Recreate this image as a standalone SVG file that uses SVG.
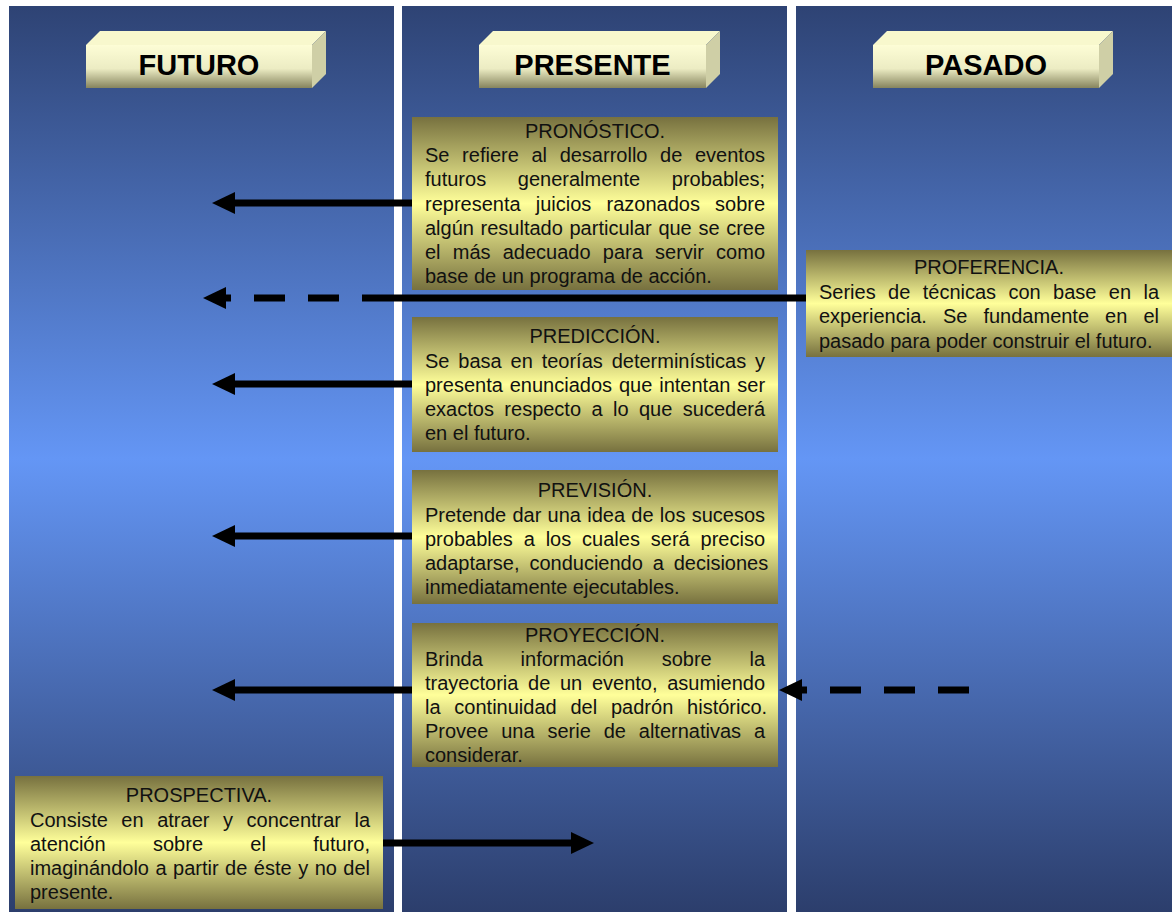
<svg xmlns="http://www.w3.org/2000/svg" width="1172" height="912" viewBox="0 0 1172 912">
<defs>
<linearGradient id="colg" gradientUnits="userSpaceOnUse" x1="0" y1="6" x2="0" y2="912">
<stop offset="0" stop-color="#2e4374"/>
<stop offset="0.5" stop-color="#6496f5"/>
<stop offset="1" stop-color="#2c3e6c"/>
</linearGradient>
<linearGradient id="boxg" x1="0" y1="0" x2="0" y2="1">
<stop offset="0" stop-color="#77713f"/>
<stop offset="0.5" stop-color="#ffff9a"/>
<stop offset="1" stop-color="#77713f"/>
</linearGradient>
<linearGradient id="frontg" x1="0" y1="0" x2="0" y2="1">
<stop offset="0" stop-color="#fdfdd6"/>
<stop offset="0.55" stop-color="#ececc3"/>
<stop offset="1" stop-color="#86845e"/>
</linearGradient>
<marker id="ah" viewBox="0 0 23 22" refX="1" refY="11" markerWidth="23" markerHeight="22" markerUnits="userSpaceOnUse" orient="auto">
<path d="M0,0 L23,11 L0,22 z" fill="#000"/>
</marker>
</defs>
<style>
.col{fill:url(#colg)}
.box{fill:url(#boxg)}
.front{fill:url(#frontg)}
.top{fill:#f8f8cd}
.side{fill:#cfcfa6}
.hd{font-family:"Liberation Sans",Arial,sans-serif;font-weight:bold;font-size:29px;fill:#000;text-anchor:middle}
.t{font-family:"Liberation Sans",Arial,sans-serif;font-size:20px;fill:#111}
.c{text-anchor:middle}
.ln{stroke:#000;stroke-width:7;fill:none}
.dash{stroke-dasharray:31 23}
</style>
<rect width="1172" height="912" fill="#ffffff"/>
<g id="columns">
<rect class="col" x="9" y="6" width="385" height="906"/>
<rect class="col" x="402" y="6" width="385" height="906"/>
<rect class="col" x="796" y="6" width="376" height="906"/>
</g>
<g id="futuro">
<polygon class="top" points="86,45 100,31 326,31 312,45"/>
<polygon class="side" points="312,45 326,31 326,74 312,88"/>
<rect class="front" x="86" y="45" width="226" height="43"/>
<text class="hd" x="199" y="75">FUTURO</text>
</g>
<g id="presente">
<polygon class="top" points="479,45 493,31 720,31 706,45"/>
<polygon class="side" points="706,45 720,31 720,74 706,88"/>
<rect class="front" x="479" y="45" width="227" height="43"/>
<text class="hd" x="592.5" y="75">PRESENTE</text>
</g>
<g id="pasado">
<polygon class="top" points="873,45 887,31 1113,31 1099,45"/>
<polygon class="side" points="1099,45 1113,31 1113,74 1099,88"/>
<rect class="front" x="873" y="45" width="226" height="43"/>
<text class="hd" x="986" y="75">PASADO</text>
</g>
<g id="connectors">
<path class="ln" d="M412,203 L234,203" marker-end="url(#ah)"/>
<path class="ln" d="M806,298 L362,298"/>
<path class="ln dash" d="M339,298 L225,298" marker-end="url(#ah)"/>
<path class="ln" d="M412,384 L234,384" marker-end="url(#ah)"/>
<path class="ln" d="M412,536 L234,536" marker-end="url(#ah)"/>
<path class="ln" d="M412,690 L234,690" marker-end="url(#ah)"/>
<path class="ln dash" d="M969,690 L801,690" marker-end="url(#ah)"/>
<path class="ln" d="M383,843 L572,843" marker-end="url(#ah)"/>
</g>
<g id="pronostico">
<rect class="box" x="412" y="117" width="366" height="173"/>
<text class="t c" x="595" y="138">PRONÓSTICO.</text>
<text class="t" x="425" y="162" word-spacing="7.08">Se refiere al desarrollo de eventos</text>
<text class="t" x="425" y="186.4" word-spacing="26.1">futuros generalmente probables;</text>
<text class="t" x="425" y="210.6" word-spacing="9.6">representa juicios razonados sobre</text>
<text class="t" x="425" y="234.8" word-spacing="1.08">algún resultado particular que se cree</text>
<text class="t" x="425" y="259" word-spacing="6.64">el más adecuado para servir como</text>
<text class="t" x="425" y="283.2">base de un programa de acción.</text>
</g>
<g id="proferencia">
<rect class="box" x="806" y="250" width="366" height="107"/>
<text class="t c" x="989" y="274">PROFERENCIA.</text>
<text class="t" x="819" y="298.5" word-spacing="6.83">Series de técnicas con base en la</text>
<text class="t" x="819" y="323" word-spacing="10.5">experiencia. Se fundamente en el</text>
<text class="t" x="819" y="347.5">pasado para poder construir el futuro.</text>
</g>
<g id="prediccion">
<rect class="box" x="412" y="317" width="366" height="135"/>
<text class="t c" x="595" y="343">PREDICCIÓN.</text>
<text class="t" x="425" y="368" word-spacing="3.3">Se basa en teorías determinísticas y</text>
<text class="t" x="425" y="392" word-spacing="1.35">presenta enunciados que intentan ser</text>
<text class="t" x="425" y="416" word-spacing="4.86">exactos respecto a lo que sucederá</text>
<text class="t" x="425" y="440">en el futuro.</text>
</g>
<g id="prevision">
<rect class="box" x="412" y="470" width="366" height="134"/>
<text class="t c" x="595" y="497">PREVISIÓN.</text>
<text class="t" x="425" y="522" word-spacing="0.71">Pretende dar una idea de los sucesos</text>
<text class="t" x="425" y="546" word-spacing="5.3">probables a los cuales será preciso</text>
<text class="t" x="425" y="570" word-spacing="4.33">adaptarse, conduciendo a decisiones</text>
<text class="t" x="425" y="594">inmediatamente ejecutables.</text>
</g>
<g id="proyeccion">
<rect class="box" x="412" y="623" width="366" height="144"/>
<text class="t c" x="595" y="642">PROYECCIÓN.</text>
<text class="t" x="425" y="666" word-spacing="32.2">Brinda información sobre la</text>
<text class="t" x="425" y="690" word-spacing="4.13">trayectoria de un evento, asumiendo</text>
<text class="t" x="425" y="714" word-spacing="8.25">la continuidad del padrón histórico.</text>
<text class="t" x="425" y="738" word-spacing="7.3">Provee una serie de alternativas a</text>
<text class="t" x="425" y="762">considerar.</text>
</g>
<g id="prospectiva">
<rect class="box" x="15" y="776" width="368" height="133"/>
<text class="t c" x="199" y="802">PROSPECTIVA.</text>
<text class="t" x="30" y="827" word-spacing="8">Consiste en atraer y concentrar la</text>
<text class="t" x="30" y="851" word-spacing="41.8">atención sobre el futuro,</text>
<text class="t" x="30" y="875" word-spacing="0.93">imaginándolo a partir de éste y no del</text>
<text class="t" x="30" y="899">presente.</text>
</g>
</svg>
